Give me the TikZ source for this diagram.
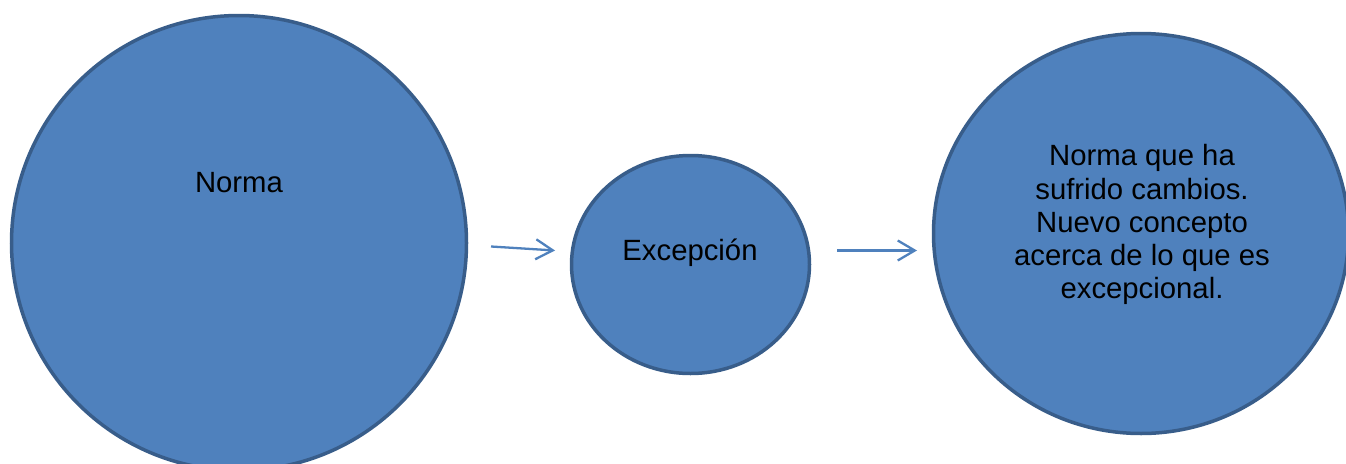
\documentclass[tikz,border=0pt]{standalone}
\usepackage{fontspec}
\setmainfont{Liberation Sans}
\usetikzlibrary{arrows.meta,shapes.geometric}
\definecolor{bubblefill}{HTML}{4F81BD}
\definecolor{bubbleline}{HTML}{385D8A}
\tikzset{
  bubble/.style={ellipse, fill=bubblefill, draw=bubbleline, line width=3.5pt, inner sep=0pt},
  caption/.style={font=\fontsize{29.3}{33.1}\selectfont, text=black, align=center, inner sep=0pt},
  flow/.style={draw=bubblefill, line width=2.3pt, -{Straight Barb[length=17pt,width=20pt,line width=2.3pt]}}
}
\begin{document}
\begin{tikzpicture}[x=1pt,y=-1pt]
  \useasboundingbox (0,0) rectangle (1346,463);
  \clip (0,0) rectangle (1346,463);
  % the three stages
  \node[bubble, minimum width=455pt, minimum height=455pt] (norma) at (239,243) {};
  \node[bubble, minimum width=238pt, minimum height=218pt] (excepcion) at (690.5,264.5) {};
  \node[bubble, minimum width=415pt, minimum height=400pt] (nueva) at (1141,233.5) {};
  % their captions (base = baseline of the last line)
  \node[caption, anchor=base] (tnorma) at (239,192) {Norma};
  \node[caption, anchor=base] (texcepcion) at (690,260.5) {Excepción};
  \node[caption, anchor=base] (tnueva) at (1142,298.3)
    {Norma que ha\\sufrido cambios.\\Nuevo concepto\\acerca de lo que es\\excepcional.};
  % arrows between the stages
  \coordinate (a1s) at (491,246.5);
  \coordinate (a1e) at (555,250.5);
  \coordinate (a2s) at (837,250.5);
  \coordinate (a2e) at (917,250.5);
  \draw[flow] (a1s) -- (a1e);
  \draw[flow] (a2s) -- (a2e);
\end{tikzpicture}
\end{document}
